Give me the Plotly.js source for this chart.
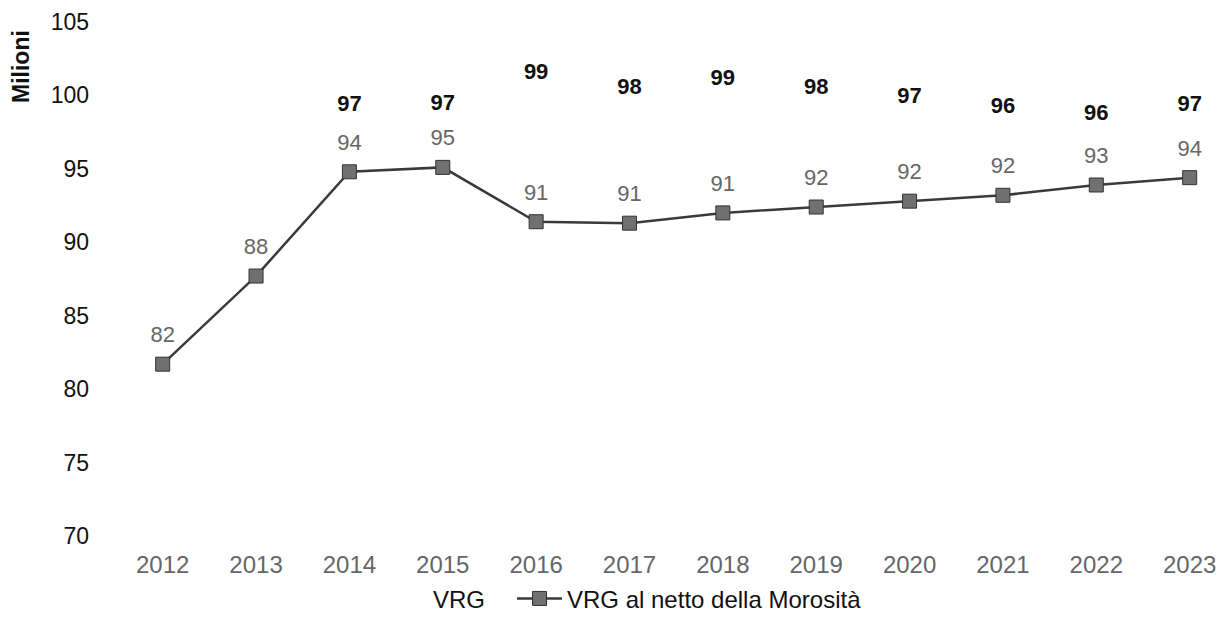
<!DOCTYPE html>
<html>
<head>
<meta charset="utf-8">
<script src="https://cdn.plot.ly/plotly-3.0.1.min.js"></script>
<style>html,body{margin:0;padding:0;background:#fff;}#chart{width:1232px;height:618px;}</style>
</head>
<body>
<div id="chart"></div>
<script>
const years = ['2012','2013','2014','2015','2016','2017','2018','2019','2020','2021','2022','2023'];
// VRG al netto della Morosità (positions, Milioni)
const nettoValues = [81.7, 87.7, 94.8, 95.1, 91.4, 91.3, 92.0, 92.4, 92.8, 93.2, 93.9, 94.4];
const nettoLabels = ['82','88','94','95','91','91','91','92','92','92','93','94'];
// VRG (series not drawn, only its labels are visible)
const vrgValues = [null, null, 97.4, 97.5, 99.6, 98.6, 99.2, 98.6, 98.0, 97.3, 96.8, 97.4];
const vrgLabels = ['', '', '97','97','99','98','99','98','97','96','96','97'];
const yTicks = [70, 75, 80, 85, 90, 95, 100, 105];

const FONT = 'Liberation Sans, Arial, sans-serif';

const traces = [
  { // legend entry for VRG (line not visible)
    x: years, y: vrgValues, name: 'VRG', type: 'scatter', mode: 'lines', legend: 'legend',
    line: {color: 'rgba(0,0,0,0)', width: 2}, hoverinfo: 'skip', connectgaps: false
  },
  { // VRG labels
    x: years, y: vrgValues, type: 'scatter', mode: 'markers+text', showlegend: false,
    marker: {size: 25, color: 'rgba(0,0,0,0)'},
    text: vrgLabels, textposition: 'top center',
    textfont: {family: FONT, size: 22, color: '#111', weight: 'bold'}, hoverinfo: 'skip'
  },
  {
    x: years, y: nettoValues, name: 'VRG al netto della Morosità', type: 'scatter', mode: 'lines+markers',
    legend: 'legend2',
    line: {color: '#3a3a3a', width: 2.5},
    marker: {symbol: 'square', size: 14, color: '#707070', line: {color: '#333', width: 1}}
  },
  { // labels for the netto series
    x: years, y: nettoValues, type: 'scatter', mode: 'markers+text', showlegend: false,
    marker: {size: 25, color: 'rgba(0,0,0,0)'},
    text: nettoLabels, textposition: 'top center',
    textfont: {family: FONT, size: 22, color: '#666'}, hoverinfo: 'skip'
  }
];

const legendFont = {family: FONT, size: 24, color: '#111'};
const layout = {
  width: 1232, height: 618,
  margin: {l: 116, r: 5, t: 22, b: 82},
  paper_bgcolor: '#fff', plot_bgcolor: '#fff',
  font: {family: FONT, color: '#111'},
  showlegend: true,
  legend: {
    orientation: 'h', xref: 'container', yref: 'container',
    x: 393 / 1232, y: 0.031, xanchor: 'left', yanchor: 'middle',
    font: legendFont
  },
  legend2: {
    orientation: 'h', xref: 'container', yref: 'container',
    x: 512 / 1232, y: 0.031, xanchor: 'left', yanchor: 'middle', itemwidth: 45,
    font: legendFont
  },
  xaxis: {
    type: 'category', range: [-0.5, 11.4],
    showgrid: false, zeroline: false, showline: false, ticks: '',
    tickfont: {family: FONT, size: 24, color: '#666'}, ticklabelstandoff: 12
  },
  yaxis: {
    range: [70, 105], tickvals: yTicks, ticktext: yTicks.map(String),
    showgrid: false, zeroline: false, showline: false, ticks: '',
    tickfont: {family: FONT, size: 23, color: '#111'}, ticklabelstandoff: 26
  },
  annotations: [{
    text: '<b>Milioni</b>', xref: 'paper', yref: 'paper', x: 0, xanchor: 'center',
    xshift: -95, y: (536 - 67) / 514, yanchor: 'middle', textangle: -90, showarrow: false,
    font: {family: FONT, size: 23, color: '#111'}
  }]
};

Plotly.newPlot('chart', traces, layout, {displayModeBar: false, staticPlot: true});
</script>
</body>
</html>
